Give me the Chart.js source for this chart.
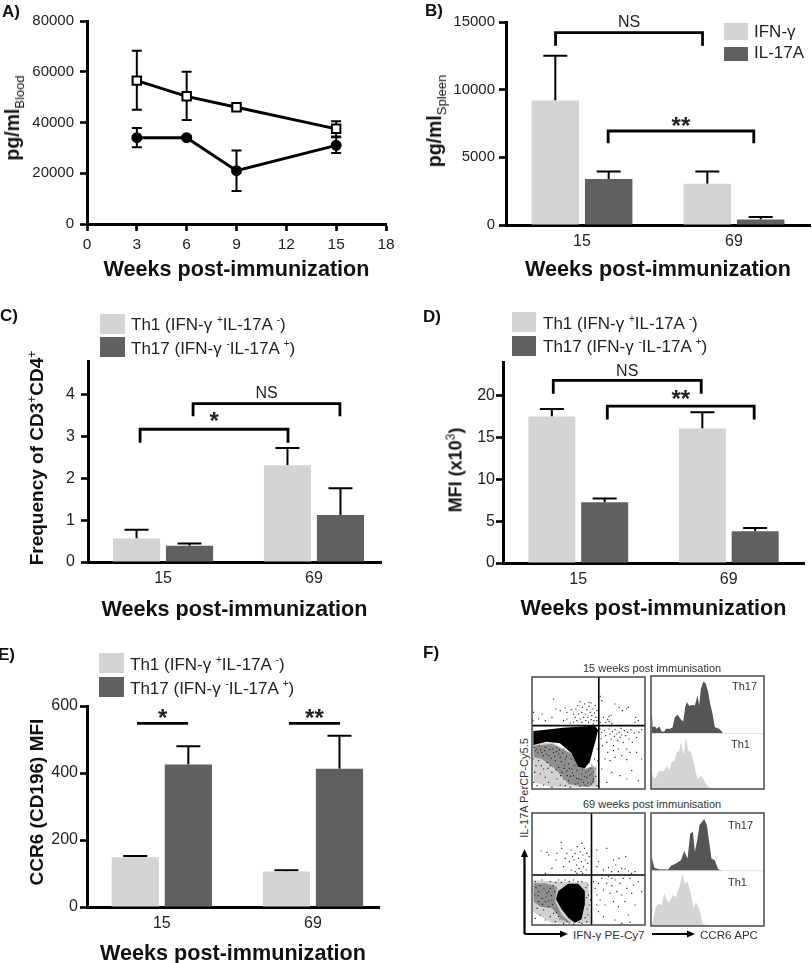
<!DOCTYPE html>
<html>
<head>
<meta charset="utf-8">
<title>Cytokines and Th1/Th17 cells post-immunization</title>
<script src="https://cdn.jsdelivr.net/npm/chart.js@4"></script>
<style>
    html, body { margin: 0; background: #fff; }
    #page { position: relative; width: 812px; height: 963px; overflow: hidden; font-family: "Liberation Sans", Arial, sans-serif; color: #222; }
    canvas { position: absolute; }
    .txt { position: absolute; white-space: nowrap; transform: translateY(-50%); }
    .letter { font-weight: bold; font-size: 17px; color: #111; }
    .yt { position: absolute; white-space: nowrap; font-weight: bold; font-size: 19.5px; color: #111; transform: translate(-50%, -50%) rotate(-90deg); }
    .yt sub { font-size: 13px; font-weight: normal; }
    .yt sup { font-size: 12px; font-weight: normal; line-height: 0; }
    .swatch { position: absolute; }
    .leg { font-size: 17px; }
    .leg sup { font-size: 10px; line-height: 0; }
    .small { font-size: 11px; color: #333; }
</style>
</head>
<body>
<div id="page">
    <canvas id="chartA" width="406" height="290" style="left:0;top:0"></canvas>
    <canvas id="chartB" width="406" height="290" style="left:406px;top:0"></canvas>
    <canvas id="chartC" width="406" height="320" style="left:0;top:300px"></canvas>
    <canvas id="chartD" width="406" height="320" style="left:406px;top:300px"></canvas>
    <canvas id="chartE" width="406" height="323" style="left:0;top:640px"></canvas>
    <canvas id="dots15" width="115" height="114" style="left:531px;top:676px"></canvas>
    <canvas id="dots69" width="115" height="114" style="left:531px;top:812px"></canvas>
    <canvas id="hist15" width="115" height="115" style="left:650px;top:675px"></canvas>
    <canvas id="hist69" width="115" height="115" style="left:650px;top:812px"></canvas>

    <div class="txt letter" style="left:2px;top:12px">A)</div>
    <div class="txt letter" style="left:425px;top:11px">B)</div>
    <div class="txt letter" style="left:0;top:316px">C)</div>
    <div class="txt letter" style="left:423px;top:317px">D)</div>
    <div class="txt letter" style="left:-2px;top:655px">E)</div>
    <div class="txt letter" style="left:423px;top:653px">F)</div>

    <div class="yt" style="left:14px;top:118px">pg/ml<sub>Blood</sub></div>
    <div class="yt" style="left:436px;top:121px">pg/ml<sub>Spleen</sub></div>
    <div class="yt" style="left:37px;top:458px;font-size:19px">Frequency of CD3<sup>+</sup>CD4<sup>+</sup></div>
    <div class="yt" style="left:456px;top:470px;font-size:18px">MFI (x10<sup>3</sup>)</div>
    <div class="yt" style="left:37px;top:802px;font-size:19px">CCR6 (CD196) MFI</div>

    <div class="swatch" style="left:724px;top:23px;width:24px;height:17px;background:#d4d4d4"></div>
    <div class="swatch" style="left:724px;top:47px;width:24px;height:14px;background:#606060"></div>
    <div class="txt leg" style="left:754px;top:32px">IFN-γ</div>
    <div class="txt leg" style="left:754px;top:53px">IL-17A</div>

    <div class="swatch" style="left:100px;top:314px;width:25px;height:20px;background:#d4d4d4"></div>
    <div class="swatch" style="left:100px;top:337px;width:25px;height:20px;background:#606060"></div>
    <div class="txt leg" style="left:131px;top:325px">Th1 (IFN-γ <sup>+</sup>IL-17A <sup>-</sup>)</div>
    <div class="txt leg" style="left:131px;top:349px">Th17 (IFN-γ <sup>-</sup>IL-17A <sup>+</sup>)</div>

    <div class="swatch" style="left:512px;top:312px;width:24px;height:20px;background:#d4d4d4"></div>
    <div class="swatch" style="left:512px;top:336px;width:24px;height:20px;background:#606060"></div>
    <div class="txt leg" style="left:543px;top:324px">Th1 (IFN-γ <sup>+</sup>IL-17A <sup>-</sup>)</div>
    <div class="txt leg" style="left:543px;top:347px">Th17 (IFN-γ <sup>-</sup>IL-17A <sup>+</sup>)</div>

    <div class="swatch" style="left:99px;top:653px;width:25px;height:20px;background:#d4d4d4"></div>
    <div class="swatch" style="left:99px;top:677px;width:25px;height:20px;background:#606060"></div>
    <div class="txt leg" style="left:130px;top:665px">Th1 (IFN-γ <sup>+</sup>IL-17A <sup>-</sup>)</div>
    <div class="txt leg" style="left:130px;top:689px">Th17 (IFN-γ <sup>-</sup>IL-17A <sup>+</sup>)</div>

    <div class="txt small" style="left:583px;top:668px">15 weeks post immunisation</div>
    <div class="txt small" style="left:583px;top:804px">69 weeks post immunisation</div>
    <div class="txt small" style="left:732px;top:686px">Th17</div>
    <div class="txt small" style="left:731px;top:744px">Th1</div>
    <div class="txt small" style="left:728px;top:825px">Th17</div>
    <div class="txt small" style="left:728px;top:882px">Th1</div>
    <div class="txt small" style="left:573px;top:934px;font-size:11.6px">IFN-γ PE-Cy7</div>
    <div class="txt small" style="left:700px;top:934px;font-size:11.6px">CCR6 APC</div>
    <div class="yt" style="left:524px;top:788px;font-size:11px;font-weight:normal;color:#333">IL-17A PerCP-Cy5.5</div>

    <svg style="position:absolute;left:0;top:0" width="812" height="963">
        <path d="M524.5 934V856M524.5 934H561M652 934H688" stroke="#000" stroke-width="2.2" fill="none"/>
        <path d="M524.5 849l-3.5 8h7zM568 934l-8-3.5v7zM695 934l-8-3.5v7z" fill="#000"/>
    </svg>
</div>

<script>
const FONT = '"Liberation Sans", Arial, sans-serif';
const LIGHT = "#d4d4d4";
const DARK = "#606060";

// panel A
const weeksA = [3, 6, 9, 15];
const squares = [56500, 50300, 46000, 37500];
const squaresHigh = [68300, 60000, 47000, 40500];
const squaresLow = [45000, 41000, 45000, 34500];
const circles = [34000, 34000, 21000, 31000];
const circlesHigh = [37800, 34600, 29000, 34200];
const circlesLow = [30200, 33400, 13000, 28000];
const ticksWeeksA = [0, 3, 6, 9, 12, 15, 18];

// bar panels share two time points
const weeks = ["15", "69"];

const ifnB = [9200, 3050];
const ifnBErr = [12500, 3950];
const il17B = [3400, 400];
const il17BErr = [3950, 600];
const bracketsB = [
    { from: -0.174, to: 0.793, top: 14210, foot: 13250, text: "NS", textY: 14930 },
    { from: 0.172, to: 1.13, top: 6945, foot: 6035, text: "**", textY: 7250 }
];

const th1C = [0.56, 2.31];
const th1CErr = [0.77, 2.72];
const th17C = [0.39, 1.12];
const th17CErr = [0.44, 1.76];
const bracketsC = [
    { from: 0.199, to: 1.172, top: 3.78, foot: 3.48, text: "NS", textY: 4.03 },
    { from: -0.152, to: 0.828, top: 3.17, foot: 2.85, text: "*", textY: 3.33 }
];

const th1D = [17.49, 16.05];
const th1DErr = [18.4, 18.0];
const th17D = [7.25, 3.78];
const th17DErr = [7.7, 4.18];
const bracketsD = [
    { from: -0.166, to: 0.817, top: 21.8, foot: 20.2, text: "NS", textY: 22.9 },
    { from: 0.193, to: 1.169, top: 18.72, foot: 17.13, text: "**", textY: 19.4 }
];

const th1E = [148.6, 105.8];
const th1EErr = [152.6, 109.7];
const th17E = [425.7, 412.6];
const th17EErr = [479.5, 511.2];
const bracketsE = [
    { from: -0.164, to: 0.174, top: 548, foot: 548, text: "*", textY: 560 },
    { from: 0.841, to: 1.179, top: 548, foot: 548, text: "**", textY: 560 }
];

const cloud15 = [[4,174],[34,177],[94,184],[189,190],[199,177],[189,137],[174,82],[159,62],[139,67],[119,107],[84,137],[44,142],[4,132]];
const haze15 = [[5,130],[60,135],[120,105],[160,60],[185,70],[190,20],[170,5],[110,15],[70,60],[30,90],[5,95]];
const mist15 = [[3,135],[60,140],[115,110],[150,60],[195,70],[198,5],[60,5],[5,20]];
const dots15 = [
    [65,270],[72,240],[85,235],[100,243],[105,230],[118,238],[60,215],[40,205],[20,210],[30,225],[5,230],[3,205],
    [125,225],[132,240],[138,250],[145,262],[150,230],[152,245],[158,255],[160,225],[165,238],[168,215],[172,248],[175,230],
    [178,258],[180,220],[183,240],[186,205],[188,228],[190,250],[192,215],[145,210],[150,200],[155,215],[162,205],[170,200],
    [178,208],[135,205],[125,200],[115,198],[105,210],[95,205],[140,225],[185,195],[172,260],[195,235],[195,205],[130,215],
    [205,278],[210,265],[215,215],[222,200],[228,208],[232,218],[238,222],[250,255],[262,245],[272,235],[285,240],[290,245],
    [312,215],[320,205],[310,200],[240,196],[232,202],[205,200],
    [205,180],[210,170],[208,150],[212,130],[218,175],[222,160],[225,140],[228,110],[232,180],[235,165],[238,150],[242,172],
    [245,130],[248,158],[250,178],[255,165],[258,145],[262,170],[265,155],[268,182],[270,162],[275,140],[278,175],[282,160],
    [285,120],[288,170],[292,150],[298,178],[302,140],[308,168],[315,155],[322,170],[330,178],[295,110],[270,100],[250,95],
    [235,85],[220,90],[240,50],[265,40],[285,30],[300,55],[320,25],[225,20],[210,60],[330,90],[315,110],[260,120],[245,115],[285,88],
    [5,20],[15,10],[25,45],[35,60],[12,70],[8,50],[40,35],[50,20],[60,50],[75,30],[85,12],[20,85],[45,80],[55,70],[70,85],[80,65],
    [90,50],[95,30],[100,10],[110,25],[115,5],[125,40],[130,15],[140,30],[145,8],[150,45],[155,20],[165,35],[170,55],[178,15],
    [180,45],[185,30],[190,60],[195,10],[30,110],[50,100],[65,110],[85,95],[100,90],[110,75],[120,60],[130,85],[135,55],[10,115],
    [22,130],[40,125],[75,125],[95,120],[160,12],[172,78],[188,90],[196,120],[198,85],[60,5],[35,12],[3,90],[80,105],[105,55],
    [118,90],[140,70],[150,75],[160,80],
    [6,125],[14,120],[18,108],[26,118],[34,100],[38,115],[44,105],[52,118],[58,92],[62,120],[68,98],[74,112],[82,118],[88,82],
    [92,108],[98,72],[104,98],[112,62],[122,48],[128,70],[134,32],[138,18],[148,28],[152,60],[158,38],[162,50],[168,18],[174,42],
    [182,22],[186,52],[192,38],[176,62],[180,72],[116,38],[106,40],[96,62],[86,40],[72,58],[48,62],[28,70]
];
const quad15 = [201, 190];

const cloud69 = [[79,102],[109,124],[139,124],[159,102],[159,62],[149,17],[129,7],[109,22],[89,47],[72,77]];
const haze69 = [[5,125],[40,125],[75,115],[70,70],[90,30],[115,8],[90,15],[60,50],[25,55],[5,70]];
const mist69 = [[3,135],[70,130],[170,130],[176,5],[60,5],[3,40]];
const dots69 = [
    [28,222],[45,218],[50,210],[75,215],[88,248],[90,230],[100,200],[105,215],[112,190],[118,225],[122,205],[126,195],[130,215],
    [134,180],[136,235],[140,200],[142,170],[145,220],[148,190],[150,245],[153,210],[155,175],[158,230],[160,195],[163,165],
    [165,215],[168,185],[172,205],[148,160],[130,160],[118,165],[95,175],[72,195],[60,170],[40,155],[135,155],[152,155],
    [195,225],[200,190],[195,175],[215,165],[230,172],[245,195],[252,180],[262,200],[270,170],[280,168],[290,162],[300,155],
    [260,160],[240,160],[310,160],[225,230],[282,205],
    [185,130],[190,110],[195,90],[200,125],[205,75],[210,140],[215,105],[220,60],[225,125],[230,145],[235,95],[240,118],[245,70],
    [250,135],[255,100],[260,55],[265,125],[270,90],[275,140],[280,70],[285,110],[290,30],[295,140],[300,95],[305,120],[200,40],
    [215,25],[250,15],[270,5],[295,8],[320,130],[330,100],[240,140],[195,60],[310,60],
    [10,20],[25,30],[40,15],[55,25],[70,10],[15,50],[35,45],[50,55],[65,35],[80,25],[95,5],[105,10],[8,90],[20,100],[30,80],[45,95],
    [55,110],[68,100],[10,130],[30,135],[55,130],[80,135],[100,135],[125,135],[150,130],[168,120],[170,90],[172,60],[168,30],
    [165,10],[150,5],[125,3],[176,75],[90,55],[60,75],[40,70],[20,70],
    [12,112],[18,88],[24,118],[36,108],[42,84],[50,100],[58,88],[64,118],[72,128],[88,128],[112,130],[138,130],[162,112],[164,82],
    [166,48],[160,22],[142,8],[112,6],[84,18],[74,38],[62,62],[50,72],[32,62]
];
const quad69 = [179, 150];

// panel F, histograms
const histBase15 = 166;
const histBase69 = 165;
const th17Channel15 = [0,2,5,12,17,25,32,40,45,58,65,72,80,90,97,103,108,115,125,132,140,145,150,158,165,172,178,185,192,205,218];
const th17Count15 = [0,74,19,22,14,21,6,6,14,14,19,49,56,42,36,79,94,82,86,84,114,84,134,156,149,124,89,59,19,14,0];
const th1Channel15 = [0,2,8,15,22,30,38,48,55,62,70,78,85,90,98,105,112,120,127,135,140,150,158,165,175,190];
const th1Count15 = [20,50,32,35,50,55,52,70,55,80,85,110,115,140,100,155,115,110,85,50,30,38,30,15,5,0];
const th17Channel69 = [0,2,10,25,52,60,75,90,100,110,118,126,132,140,146,160,168,175,182,192,202,215];
const th17Count69 = [0,42,9,5,4,15,22,32,59,37,112,117,57,97,137,155,137,87,37,32,5,0];
const th1Channel69 = [0,5,15,22,32,40,48,55,65,75,85,95,102,110,120,128,135,145,155,165,215];
const th1Count69 = [0,12,57,67,62,97,77,72,92,87,117,155,127,132,97,52,72,52,7,4,0];

const whiskerPlugin = {
    id: "whiskers",
    beforeDatasetsDraw(chart) {
        const ctx = chart.ctx;
        const yScale = chart.scales.y;
        const capHalf = chart.options.plugins.whiskers.cap;
        ctx.save();
        ctx.strokeStyle = "#000";
        ctx.lineWidth = 2;
        chart.data.datasets.forEach((ds, i) => {
            if (!ds.errHigh) {
                return;
            }
            chart.getDatasetMeta(i).data.forEach((el, k) => {
                const hi = yScale.getPixelForValue(ds.errHigh[k]);
                const lo = ds.errLow ? yScale.getPixelForValue(ds.errLow[k]) : el.y;
                ctx.beginPath();
                ctx.moveTo(el.x, lo);
                ctx.lineTo(el.x, hi);
                ctx.moveTo(el.x - capHalf, hi);
                ctx.lineTo(el.x + capHalf, hi);
                if (ds.errLow) {
                    ctx.moveTo(el.x - capHalf, lo);
                    ctx.lineTo(el.x + capHalf, lo);
                }
                ctx.stroke();
            });
        });
        ctx.restore();
    }
};

const bracketPlugin = {
    id: "brackets",
    afterDatasetsDraw(chart) {
        const list = chart.options.plugins.brackets.items;
        if (!list) {
            return;
        }
        const ctx = chart.ctx;
        const { x, y } = chart.scales;
        ctx.save();
        ctx.strokeStyle = "#000";
        ctx.lineWidth = 2.8;
        ctx.fillStyle = "#222";
        ctx.textAlign = "center";
        ctx.textBaseline = "middle";
        list.forEach((b) => {
            const x1 = x.getPixelForValue(b.from);
            const x2 = x.getPixelForValue(b.to);
            ctx.beginPath();
            ctx.moveTo(x1, y.getPixelForValue(b.foot));
            ctx.lineTo(x1, y.getPixelForValue(b.top));
            ctx.lineTo(x2, y.getPixelForValue(b.top));
            ctx.lineTo(x2, y.getPixelForValue(b.foot));
            ctx.stroke();
            ctx.font = b.text === "NS" ? `16px ${FONT}` : `bold 24px ${FONT}`;
            ctx.fillText(b.text, (x1 + x2) / 2, y.getPixelForValue(b.textY));
        });
        ctx.restore();
    }
};

const framePlugin = {
    id: "frame",
    afterDraw(chart) {
        if (!chart.options.plugins.frame.show) {
            return;
        }
        const a = chart.chartArea;
        const ctx = chart.ctx;
        ctx.save();
        ctx.strokeStyle = "#4a4a4a";
        ctx.lineWidth = 1.5;
        ctx.strokeRect(a.left, a.top, a.right - a.left, a.bottom - a.top);
        ctx.restore();
    }
};

Chart.register(whiskerPlugin, bracketPlugin, framePlugin);

function yAxis(p) {
    return {
        min: 0,
        max: p.yMax,
        bounds: "data",
        afterBuildTicks: (s) => { s.ticks = s.ticks.filter((t) => t.value % p.yStep === 0); },
        ticks: { stepSize: p.yStep, callback: (v) => String(v), font: { family: FONT, size: p.yFont }, color: "#222", padding: p.yPad },
        grid: { drawOnChartArea: false, tickLength: 7, tickWidth: 2.6, tickColor: "#000" },
        border: { color: "#000", width: 3 },
        afterFit: (s) => { s.width = p.left; }
    };
}

function xTitle(bottomPad) {
    return {
        display: true,
        text: "Weeks post-immunization",
        color: "#111",
        font: { family: FONT, size: 21.6, weight: "bold", lineHeight: 1 },
        padding: { top: 0, bottom: bottomPad }
    };
}

function basePlugins(extra) {
    return Object.assign({ legend: { display: false }, tooltip: { enabled: false }, frame: { show: false }, whiskers: { cap: 12 }, brackets: {} }, extra);
}

function barPanel(id, p) {
    new Chart(document.getElementById(id), {
        type: "bar",
        data: {
            datasets: [
                { label: p.names[0], data: p.light.map((v, i) => ({ x: i, y: v })), errHigh: p.lightErr, backgroundColor: LIGHT, categoryPercentage: 0.702, barPercentage: 0.89 },
                { label: p.names[1], data: p.dark.map((v, i) => ({ x: i, y: v })), errHigh: p.darkErr, backgroundColor: DARK, categoryPercentage: 0.702, barPercentage: 0.89 }
            ]
        },
        options: {
            responsive: false,
            animation: false,
            layout: { autoPadding: false, padding: { top: p.top, right: p.right } },
            plugins: basePlugins({ brackets: { items: p.brackets } }),
            scales: {
                x: {
                    type: "linear",
                    offset: false,
                    bounds: "data",
                    min: p.xMin,
                    max: p.xMax,
                    afterBuildTicks: (s) => { s.ticks = weeks.map((w, i) => ({ value: i })); },
                    ticks: { callback: (v) => weeks[v], font: { family: FONT, size: 16 }, color: "#222", padding: 7, maxRotation: 0 },
                    grid: { offset: false, drawOnChartArea: false, drawTicks: false },
                    border: { color: "#000", width: 3 },
                    title: xTitle(p.titlePad),
                    afterFit: (s) => { s.height = p.bottom; }
                },
                y: yAxis(p)
            }
        }
    });
}

new Chart(document.getElementById("chartA"), {
    type: "line",
    data: {
        datasets: [
            {
                label: "squares",
                data: weeksA.map((w, i) => ({ x: w, y: squares[i] })),
                errHigh: squaresHigh,
                errLow: squaresLow,
                borderColor: "#000",
                borderWidth: 3,
                pointStyle: "rect",
                pointRadius: 6,
                pointBorderWidth: 2,
                pointBorderColor: "#000",
                pointBackgroundColor: "#fff"
            },
            {
                label: "circles",
                data: weeksA.map((w, i) => ({ x: w, y: circles[i] })),
                errHigh: circlesHigh,
                errLow: circlesLow,
                borderColor: "#000",
                borderWidth: 3,
                pointRadius: 4,
                pointBackgroundColor: "#000",
                pointBorderColor: "#000"
            }
        ]
    },
    options: {
        responsive: false,
        animation: false,
        layout: { autoPadding: false, padding: { top: 21, right: 20 } },
        plugins: basePlugins({ whiskers: { cap: 5 } }),
        scales: {
            x: {
                type: "linear",
                bounds: "data",
                min: 0,
                max: 18,
                afterBuildTicks: (s) => { s.ticks = ticksWeeksA.map((w) => ({ value: w })); },
                ticks: { font: { family: FONT, size: 15.5 }, color: "#222", padding: 4, maxRotation: 0 },
                grid: { drawOnChartArea: false, tickLength: 7, tickWidth: 2.6, tickColor: "#000" },
                border: { color: "#000", width: 3 },
                title: xTitle(9),
                afterFit: (s) => { s.height = 66; }
            },
            y: yAxis({ yMax: 80000, yStep: 20000, yFont: 15, yPad: 6, left: 87 })
        }
    }
});

barPanel("chartB", {
    names: ["IFN-γ", "IL-17A"], light: ifnB, lightErr: ifnBErr, dark: il17B, darkErr: il17BErr, brackets: bracketsB,
    xMin: -0.5, xMax: 1.5, yMax: 15000, yStep: 5000, yFont: 15, yPad: 4,
    left: 100, top: 22, right: 2, bottom: 65, titlePad: 9
});
barPanel("chartC", {
    names: ["Th1", "Th17"], light: th1C, lightErr: th1CErr, dark: th17C, darkErr: th17CErr, brackets: bracketsC,
    xMin: -0.497, xMax: 1.444, yMax: 4.8, yStep: 1, yFont: 16, yPad: 6,
    left: 88, top: 61, right: 25, bottom: 58, titlePad: -1
});
barPanel("chartD", {
    names: ["Th1", "Th17"], light: th1D, lightErr: th1DErr, dark: th17D, darkErr: th17DErr, brackets: bracketsD,
    xMin: -0.5, xMax: 1.5, yMax: 24, yStep: 5, yFont: 16, yPad: 1,
    left: 97, top: 62, right: 8, bottom: 57, titlePad: 0
});
barPanel("chartE", {
    names: ["Th1", "Th17"], light: th1E, lightErr: th1EErr, dark: th17E, darkErr: th17EErr, brackets: bracketsE,
    xMin: -0.495, xMax: 1.437, yMax: 600, yStep: 200, yFont: 16, yPad: 2,
    left: 87, top: 66, right: 27, bottom: 56, titlePad: -2
});

function pairs(list) {
    return list.map((p) => ({ x: p[0], y: p[1] }));
}

function hiddenScale(max) {
    return { type: "linear", display: false, min: 0, max: max };
}

function dotPlot(id, cloud, haze, mist, dots, quad) {
    new Chart(document.getElementById(id), {
        type: "scatter",
        data: {
            datasets: [
                { data: [{ x: quad[0], y: 0 }, { x: quad[0], y: 336 }], showLine: true, pointRadius: 0, borderColor: "#000", borderWidth: 1.6 },
                { data: [{ x: 0, y: quad[1] }, { x: 340, y: quad[1] }], showLine: true, pointRadius: 0, borderColor: "#000", borderWidth: 1.6 },
                { data: pairs(dots), pointStyle: "rect", pointRadius: 0.8, pointBorderWidth: 0, pointBackgroundColor: "#222" },
                { data: pairs(cloud), showLine: true, fill: "shape", pointRadius: 0, borderWidth: 0, backgroundColor: "#000" },
                { data: pairs(haze), showLine: true, fill: "shape", pointRadius: 0, borderWidth: 0, backgroundColor: "rgba(0,0,0,0.32)" },
                { data: pairs(mist), showLine: true, fill: "shape", pointRadius: 0, borderWidth: 0, backgroundColor: "rgba(0,0,0,0.18)" }
            ]
        },
        options: {
            responsive: false,
            animation: false,
            layout: { autoPadding: false, padding: 1 },
            plugins: basePlugins({ frame: { show: true } }),
            scales: { x: hiddenScale(340), y: hiddenScale(336) }
        }
    });
}

function histPlot(id, base, upperX, upperY, lowerX, lowerY) {
    new Chart(document.getElementById(id), {
        type: "scatter",
        data: {
            datasets: [
                { data: [{ x: 0, y: base }, { x: 340, y: base }], showLine: true, pointRadius: 0, borderColor: "#e2e2e2", borderWidth: 1 },
                { data: upperX.map((c, i) => ({ x: c, y: base + upperY[i] })), showLine: true, fill: "shape", pointRadius: 0, borderWidth: 0, backgroundColor: "#555" },
                { data: lowerX.map((c, i) => ({ x: c, y: lowerY[i] })), showLine: true, fill: "origin", pointRadius: 0, borderWidth: 0, backgroundColor: LIGHT }
            ]
        },
        options: {
            responsive: false,
            animation: false,
            layout: { autoPadding: false, padding: 1 },
            plugins: basePlugins({ frame: { show: true } }),
            scales: { x: hiddenScale(340), y: hiddenScale(338) }
        }
    });
}

dotPlot("dots15", cloud15, haze15, mist15, dots15, quad15);
dotPlot("dots69", cloud69, haze69, mist69, dots69, quad69);
histPlot("hist15", histBase15, th17Channel15, th17Count15, th1Channel15, th1Count15);
histPlot("hist69", histBase69, th17Channel69, th17Count69, th1Channel69, th1Count69);
</script>
</body>
</html>
